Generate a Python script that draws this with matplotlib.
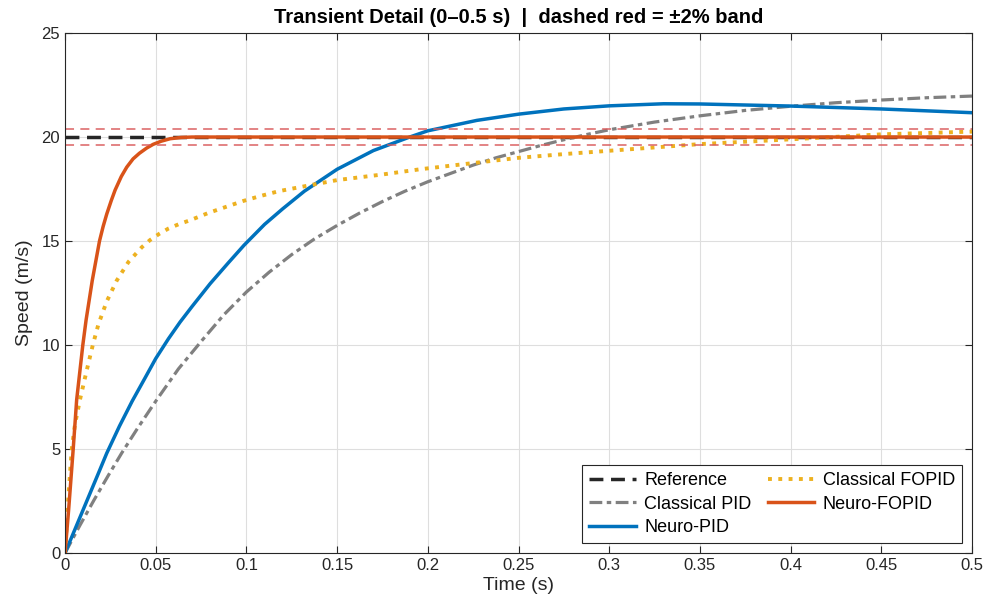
import numpy as np
import matplotlib
matplotlib.use("Agg")
import matplotlib.pyplot as plt
from matplotlib.ticker import FuncFormatter

plt.rcParams['font.family'] = ['Liberation Sans', 'DejaVu Sans']

# speed set-point and +/-2% band
ref_speed = 20.0
band = 0.02

# Classical PID
t_pid = [0, 0.008, 0.016, 0.024, 0.0312, 0.04, 0.05, 0.0625, 0.0753, 0.0875,
         0.1, 0.1125, 0.125, 0.1375, 0.15, 0.1625, 0.175, 0.1875, 0.2, 0.2125,
         0.225, 0.2375, 0.25, 0.2625, 0.275, 0.2875, 0.3, 0.325, 0.35, 0.375,
         0.4, 0.425, 0.45, 0.475, 0.5]
v_pid = [0, 1.3, 2.55, 3.75, 4.8, 6.0, 7.3, 8.85, 10.2, 11.45,
         12.55, 13.5, 14.35, 15.1, 15.75, 16.35, 16.9, 17.4, 17.85, 18.25,
         18.65, 19.0, 19.3, 19.6, 19.87, 20.12, 20.35, 20.72, 21.02, 21.28,
         21.48, 21.65, 21.78, 21.89, 21.97]

# Neuro-PID
t_npid = [0, 0.006, 0.012, 0.018, 0.023, 0.03, 0.037, 0.044, 0.05, 0.057,
          0.0634, 0.07, 0.08, 0.09, 0.0987, 0.11, 0.12, 0.132, 0.15, 0.17,
          0.19, 0.2, 0.227, 0.25, 0.275, 0.3, 0.33, 0.35, 0.4, 0.45, 0.5]
v_npid = [0, 1.25, 2.5, 3.75, 4.8, 6.1, 7.3, 8.4, 9.35, 10.3,
          11.1, 11.85, 12.95, 13.95, 14.8, 15.8, 16.55, 17.4, 18.45, 19.35,
          20.0, 20.3, 20.8, 21.1, 21.35, 21.5, 21.6, 21.59, 21.49, 21.35, 21.17]

# Classical FOPID
t_fopid = [0, 0.001, 0.002, 0.0037, 0.0055, 0.0083, 0.012, 0.0153, 0.0184, 0.023,
           0.0285, 0.035, 0.0423, 0.0469, 0.052, 0.057, 0.063, 0.069, 0.079, 0.089,
           0.098, 0.1075, 0.118, 0.13, 0.15, 0.175, 0.1957, 0.225, 0.25, 0.275,
           0.3, 0.35, 0.4, 0.45, 0.5]
v_fopid = [0, 1.5, 2.9, 5.0, 6.2, 7.4, 8.8, 10.0, 11.0, 12.1,
           13.1, 14.0, 14.7, 15.05, 15.35, 15.6, 15.82, 16.0, 16.35, 16.65,
           16.92, 17.16, 17.4, 17.6, 17.93, 18.2, 18.45, 18.75, 19.0, 19.18,
           19.34, 19.66, 19.89, 20.13, 20.26]

# Neuro-FOPID
t_nfopid = [0, 0.002, 0.0045, 0.0064, 0.0098, 0.0116, 0.015, 0.017, 0.019, 0.021,
            0.023, 0.0255, 0.0276, 0.031, 0.034, 0.0375, 0.041, 0.045, 0.0486, 0.053,
            0.058, 0.064, 0.07, 0.1, 0.2, 0.3, 0.4, 0.5]
v_nfopid = [0, 2.1, 5.0, 7.36, 10.0, 11.2, 13.1, 14.05, 15.0, 15.7,
            16.3, 16.95, 17.45, 18.1, 18.55, 18.95, 19.22, 19.47, 19.65, 19.8,
            19.92, 19.98, 20.0, 20.0, 20.0, 20.0, 20.0, 20.0]

fig = plt.figure(figsize=(9.9, 6.12), dpi=100)
ax = fig.add_axes([0.0657, 0.0964, 0.9161, 0.8496])

ax.plot([0, 0.5], [ref_speed, ref_speed], '--', color='#262626', lw=2.5,
        dashes=(4, 2.2), label='Reference')
ax.plot(t_pid, v_pid, '-.', color='#808080', lw=2.3,
        dashes=(4, 1.4, 1.4, 1.4), label='Classical PID')
ax.plot(t_npid, v_npid, '-', color='#0072BD', lw=2.5, label='Neuro-PID')
ax.plot(t_fopid, v_fopid, ':', color='#EDB120', lw=2.8, label='Classical FOPID')
ax.plot(t_nfopid, v_nfopid, '-', color='#D95319', lw=2.5, label='Neuro-FOPID')

for lvl in (ref_speed * (1 - band), ref_speed * (1 + band)):
    ax.axhline(lvl, ls='--', color='#D9595A', alpha=0.8, lw=1.3, dashes=(5, 3.5))

ax.set_xlim(0, 0.5)
ax.set_ylim(0, 25)
ax.set_xticks(np.arange(0, 0.51, 0.05))
ax.set_yticks(np.arange(0, 26, 5))
ax.xaxis.set_major_formatter(FuncFormatter(lambda v, p: f"{v:g}"))
ax.tick_params(direction='in', top=True, right=True, length=5,
               labelsize=12, colors='#262626')
for s in ax.spines.values():
    s.set_color('#262626')
    s.set_linewidth(0.8)
ax.grid(True, color='#DEDEDE', lw=0.8)
ax.set_axisbelow(True)

ax.set_xlabel('Time (s)', fontsize=14, color='#262626', labelpad=3)
ax.set_ylabel('Speed (m/s)', fontsize=14, color='#262626', labelpad=6)
ax.set_title('Transient Detail (0–0.5 s)  |  dashed red = ±2% band',
             fontsize=14.5, fontweight='bold', pad=7)

leg = ax.legend(loc='lower right', ncol=2, fontsize=13, fancybox=False,
                framealpha=1, edgecolor='#262626', handlelength=2.6,
                columnspacing=0.9, handletextpad=0.45, labelspacing=0.35,
                borderaxespad=0.55, borderpad=0.4)
leg.get_frame().set_linewidth(0.8)

fig.savefig('out.png', dpi=100)
